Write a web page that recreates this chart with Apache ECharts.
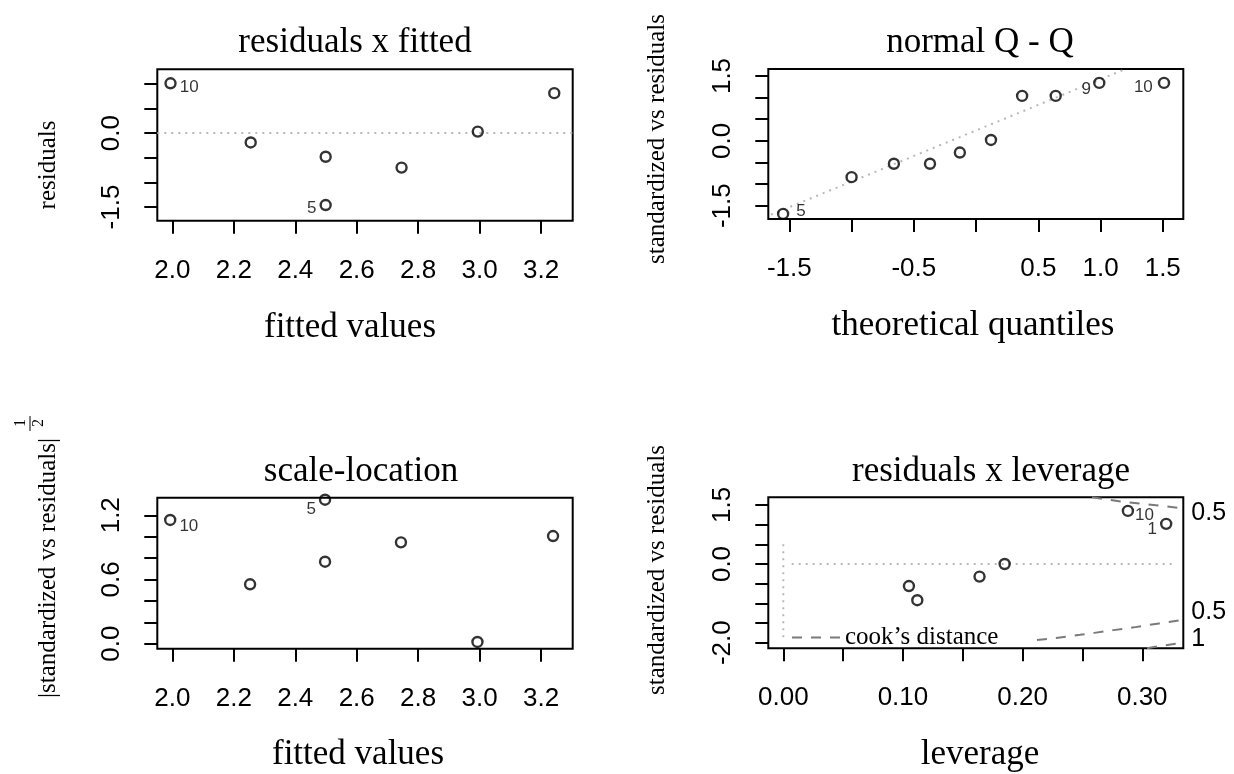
<!DOCTYPE html>
<html><head><meta charset="utf-8">
<script src="https://cdn.jsdelivr.net/npm/echarts@6/dist/echarts.min.js"></script>
<style>html,body{margin:0;padding:0;background:#fff}#c{width:1234px;height:774px}</style>
</head><body><div id="c"></div>
<script>
// ---- Panel 1: residuals x fitted ----
const fitted = [1.994, 2.255, 2.499, 2.499, 2.746, 2.994, 3.243];
const residuals = [1.01, -0.19, -0.48, -1.46, -0.70, 0.03, 0.81];
const residIds = ['10', '', '', '5', '', '', ''];
const ticksFitted = [2.0, 2.2, 2.4, 2.6, 2.8, 3.0, 3.2];
const ticksResid = [-1.5, -1.0, -0.5, 0, 0.5, 1.0];
const labelsResid = [-1.5, 0];

// ---- Panel 2: normal Q - Q ----
const theoQuant = [-1.55, -1.00, -0.66, -0.37, -0.13, 0.12, 0.37, 0.64, 0.99, 1.51];
const stdResidQQ = [-1.69, -0.84, -0.53, -0.53, -0.27, 0.02, 1.04, 1.04, 1.34, 1.34];
const qqIds = ['5', '', '', '', '', '', '', '', '9', '10'];
const qqLine = [[-1.70, -1.77], [1.20, 1.66]];
const ticksTheo = [-1.5, -1.0, -0.5, 0, 0.5, 1.0, 1.5];
const labelsTheo = [-1.5, -0.5, 0.5, 1.0, 1.5];
const ticksQQy = [-1.5, -1.0, -0.5, 0, 0.5, 1.0, 1.5];
const labelsQQy = [-1.5, 0, 1.5];

// ---- Panel 3: scale-location ----
const fittedSL = [1.993, 2.253, 2.497, 2.497, 2.744, 2.993, 3.239];
const sqrtStdResid = [1.156, 0.555, 0.766, 1.345, 0.947, 0.016, 1.006];
const slIds = ['10', '', '', '5', '', '', ''];
const ticksSL = [0, 0.2, 0.4, 0.6, 0.8, 1.0, 1.2];
const labelsSL = [0, 0.6, 1.2];

// ---- Panel 4: residuals x leverage ----
const leverage = [0.288, 0.320, 0.105, 0.112, 0.164, 0.185];
const stdResidLev = [1.35, 1.02, -0.56, -0.92, -0.32, 0.00];
const levIds = ['10', '1', '', '', '', ''];
const cookUpper05 = [[0.258, 1.695], [0.270, 1.64], [0.285, 1.575], [0.300, 1.53], [0.316, 1.48], [0.334, 1.41]];
const cookLower05 = [[0.212, -1.93], [0.228, -1.88], [0.248, -1.80], [0.260, -1.75], [0.276, -1.68], [0.293, -1.61], [0.314, -1.51], [0.334, -1.42]];
const cookLower1 = [[0.304, -2.14], [0.318, -2.07], [0.334, -2.00]];
const hLine4 = [[0.007, 0], [0.325, 0]];
const vLine4 = [[0, -1.86], [0, 0.56]];
const ticksLev = [0, 0.05, 0.10, 0.15, 0.20, 0.25, 0.30];
const labelsLev = [0, 0.10, 0.20, 0.30];
const ticksLevY = [-2.0, -1.5, -1.0, -0.5, 0, 0.5, 1.0, 1.5];
const labelsLevY = [-2.0, 0, 1.5];
const cookAxisVals = [-1.906, -1.22, 1.296];
const cookAxisText = ['1', '0.5', '0.5'];

const SANS = 'Liberation Sans', SERIF = 'Liberation Serif';

function grid(left, top, width, height) {
  return { left, top, width, height, show: true, borderColor: '#000', borderWidth: 2, backgroundColor: 'transparent' };
}
function axis(g, min, max, ticks, labels, dec, isY) {
  return {
    type: 'value', gridIndex: g, min, max,
    axisLine: { show: false, onZero: false },
    splitLine: { show: false },
    axisTick: { show: true, length: 13, lineStyle: { color: '#000', width: 2 }, customValues: ticks },
    axisLabel: {
      customValues: labels, formatter: v => Number(v).toFixed(dec),
      fontFamily: SANS, fontSize: 26, color: '#000',
      margin: isY ? 32 : 37, rotate: isY ? 90 : 0
    }
  };
}
function pts(xs, ys, ids, place) {
  return xs.map((x, i) => {
    const o = { value: [x, ys[i]] };
    if (ids[i]) o.label = Object.assign({ show: true, formatter: ids[i], fontFamily: SANS, fontSize: 17, color: '#000' }, place[ids[i]]);
    return o;
  });
}
function scatter(xi, yi, data) {
  return {
    type: 'scatter', xAxisIndex: xi, yAxisIndex: yi, data, symbol: 'circle', symbolSize: 10, clip: false, z: 5,
    itemStyle: { color: 'rgba(0,0,0,0)', borderColor: '#000', borderWidth: 2.4 }, silent: true
  };
}
const dotted = { color: '#b8b8b8', width: 2, type: [2, 5] };
const dashed = { color: '#7a7a7a', width: 2, type: [10, 9] };
function line(xi, yi, data, style, name) {
  return {
    type: 'line', name, xAxisIndex: xi, yAxisIndex: yi, data, symbol: 'none', showSymbol: false,
    lineStyle: style, itemStyle: { color: style.color }, silent: true, z: 3, clip: true
  };
}

function txt(text, x, y, size, rot, family) {
  const fam = family || SERIF;
  return {
    type: 'text', x, y, rotation: rot || 0, z: 10,
    style: { text, font: size + 'px "' + fam + '"', fill: '#000', align: 'center', textAlign: 'center', verticalAlign: 'middle', textVerticalAlign: 'middle' }
  };
}
const R = Math.PI / 2;

const option = {
  animation: false,
  backgroundColor: '#fff',
  grid: [grid(157.3, 69.3, 415.4, 151.4), grid(768.3, 69, 415, 150), grid(157.3, 497.7, 415.4, 151), grid(768.3, 497.3, 415, 151)],
  xAxis: [
    axis(0, 1.951, 3.303, ticksFitted, ticksFitted, 1, false),
    axis(1, -1.669, 1.665, ticksTheo, labelsTheo, 1, false),
    axis(2, 1.951, 3.303, ticksFitted, ticksFitted, 1, false),
    axis(3, -0.01253, 0.3343, ticksLev, labelsLev, 2, false)
  ],
  yAxis: [
    axis(0, -1.777, 1.294, ticksResid, labelsResid, 1, true),
    axis(1, -1.808, 1.662, ticksQQy, labelsQQy, 1, true),
    axis(2, -0.047, 1.364, ticksSL, labelsSL, 1, true),
    axis(3, -2.142, 1.695, ticksLevY, labelsLevY, 1, true),
    {
      type: 'value', gridIndex: 3, position: 'right', min: -2.142, max: 1.695,
      axisLine: { show: false, onZero: false }, splitLine: { show: false }, axisTick: { show: false },
      axisLabel: {
        customValues: cookAxisVals,
        formatter: v => { let b = 0; cookAxisVals.forEach((c, i) => { if (Math.abs(c - v) < Math.abs(cookAxisVals[b] - v)) b = i; }); return cookAxisText[b]; },
        fontFamily: SANS, fontSize: 25, color: '#000', margin: 8
      }
    }
  ],
  legend: {
    data: ['cook\u2019s distance'], left: 786, top: 620, itemWidth: 48, itemHeight: 14, selectedMode: false,
    itemStyle: { opacity: 0 },
    textStyle: { fontFamily: SERIF, fontSize: 25, color: '#000' }
  },
  series: [
    Object.assign(scatter(0, 0, pts(fitted, residuals, residIds, {
      '10': { position: 'right', distance: 3, offset: [0, 4] },
      '5': { position: 'left', distance: 3, offset: [0, 3] }
    })), { markLine: { symbol: 'none', silent: true, label: { show: false }, lineStyle: dotted, data: [{ yAxis: 0 }] } }),
    line(1, 1, qqLine, dotted),
    scatter(1, 1, pts(theoQuant, stdResidQQ, qqIds, {
      '5': { position: 'right', distance: 7, offset: [0, -3] },
      '9': { position: 'left', distance: 2, offset: [0, 6] },
      '10': { position: 'left', distance: 5, offset: [0, 4] }
    })),
    scatter(2, 2, pts(fittedSL, sqrtStdResid, slIds, {
      '10': { position: 'right', distance: 3, offset: [0, 6] },
      '5': { position: 'left', distance: 3, offset: [0, 10] }
    })),
    line(3, 3, hLine4, dotted),
    line(3, 3, vLine4, dotted),
    line(3, 3, cookUpper05, dashed, 'cook\u2019s distance'),
    line(3, 3, cookLower05, dashed, 'cook\u2019s distance'),
    line(3, 3, cookLower1, dashed, 'cook\u2019s distance'),
    scatter(3, 3, pts(leverage, stdResidLev, levIds, {
      '10': { position: 'right', distance: 1, offset: [0, 4] },
      '1': { position: 'left', distance: 3, offset: [0, 5] }
    }))
  ],
  graphic: [
    txt('residuals x fitted', 355, 43, 35),
    txt('normal Q - Q', 980, 43, 35),
    txt('scale-location', 361, 471.5, 35),
    txt('residuals x leverage', 991, 471.5, 35),
    txt('fitted values', 350, 327.5, 35),
    txt('theoretical quantiles', 973, 325.5, 35),
    txt('fitted values', 358, 755.2, 35),
    txt('leverage', 980, 755, 35),
    txt('residuals', 48, 165, 25, R),
    txt('standardized vs residuals', 657.6, 139, 25, R),
    txt('|standardized vs residuals|', 48, 568, 25, R),
    txt('1', 21, 423, 16, R),
    txt('2', 39, 423, 16, R),
    { type: 'line', z: 10, shape: { x1: 30, y1: 416, x2: 30, y2: 431 }, style: { stroke: '#000', lineWidth: 1 } },
    txt('standardized vs residuals', 657.6, 570, 25, R)
  ]
};
const chart = echarts.init(document.getElementById('c'), null, { renderer: 'canvas' });
chart.setOption(option);
</script></body></html>
